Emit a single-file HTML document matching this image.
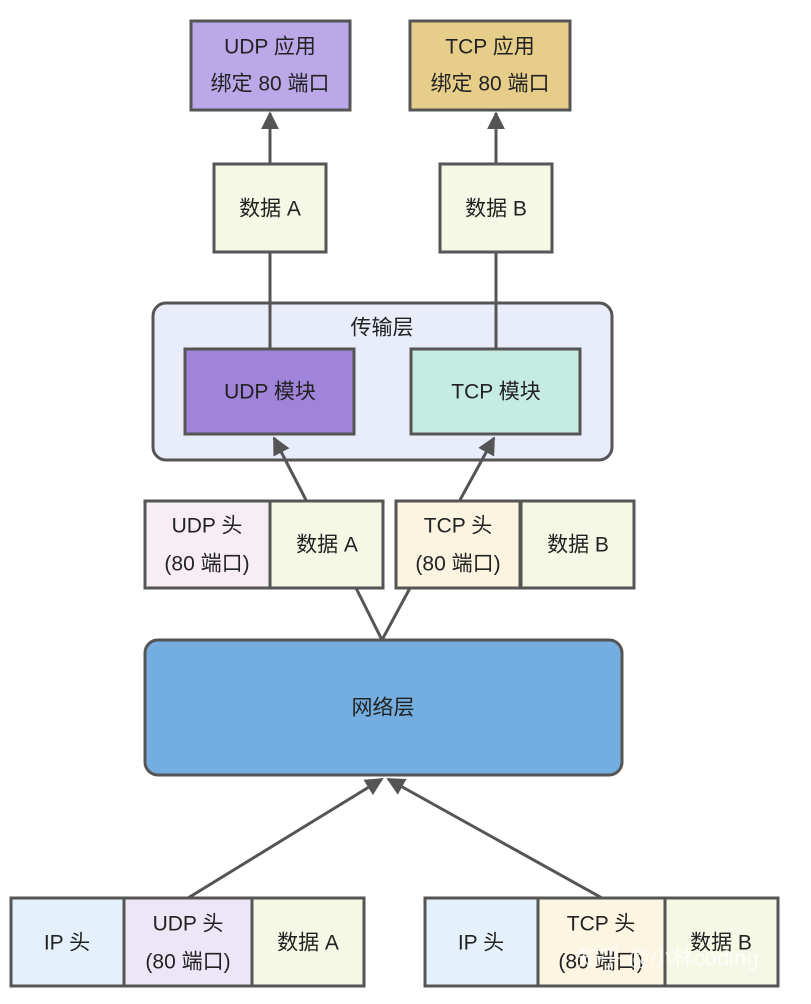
<!DOCTYPE html>
<html><head><meta charset="utf-8"><style>
html,body{margin:0;padding:0;background:#fff;}
svg{display:block;}
text{font-family:"Liberation Sans","Noto Sans CJK SC",sans-serif;font-size:21px;fill:#222;text-anchor:middle;dominant-baseline:central;}
</style></head><body>
<svg width="811" height="1004" viewBox="0 0 811 1004" xmlns="http://www.w3.org/2000/svg">
<defs>
<marker id="ah" viewBox="0 0 10 10" refX="9" refY="5" markerWidth="6" markerHeight="6" orient="auto" markerUnits="strokeWidth">
<path d="M0,0 L10,5 L0,10 z" fill="#555"/>
</marker>
</defs>
<g stroke="#555" stroke-width="3">
<rect x="191" y="21" width="159" height="89" fill="#bba8e8"/>
<rect x="410" y="21" width="160" height="89" fill="#e6cd8a"/>
<rect x="214" y="164" width="112" height="88" fill="#f6f8e6"/>
<rect x="440" y="164" width="112" height="88" fill="#f6f8e6"/>
<rect x="153" y="303" width="459" height="157" rx="13" fill="#e9edf9"/>
<line x1="270" y1="252" x2="270" y2="349"/>
<line x1="496" y1="252" x2="496" y2="349"/>
<rect x="185" y="349" width="169" height="85" fill="#9f84da"/>
<rect x="411" y="349" width="169" height="85" fill="#c6ebe2"/>
<rect x="145" y="501" width="125" height="87" fill="#f7eef5"/>
<rect x="270" y="501" width="113" height="87" fill="#f6f8e6"/>
<rect x="396" y="501" width="124" height="87" fill="#fbf4e0"/>
<rect x="521" y="501" width="113" height="87" fill="#f6f8e6"/>
<polyline points="356,588 382,640 410,588" fill="none"/>
<rect x="145" y="640" width="477" height="135" rx="13" fill="#74aee0"/>
<rect x="11" y="898" width="113" height="88" fill="#e4f1fb"/>
<rect x="124" y="898" width="128" height="88" fill="#ece6f6"/>
<rect x="252" y="898" width="112" height="88" fill="#f6f8e6"/>
<rect x="425" y="898" width="113" height="88" fill="#e4f1fb"/>
<rect x="538" y="898" width="127" height="88" fill="#fbf5e1"/>
<rect x="665" y="898" width="113" height="88" fill="#f6f8e6"/>
<line x1="270" y1="164" x2="270" y2="113" marker-end="url(#ah)"/>
<line x1="496" y1="164" x2="496" y2="113" marker-end="url(#ah)"/>
<line x1="306" y1="500" x2="274" y2="438" marker-end="url(#ah)"/>
<line x1="460" y1="500" x2="494" y2="438" marker-end="url(#ah)"/>
<line x1="188" y1="898" x2="382" y2="779" marker-end="url(#ah)"/>
<line x1="602" y1="898" x2="388" y2="779" marker-end="url(#ah)"/>
</g>
<text x="270" y="47">UDP 应用</text>
<text x="270" y="84">绑定 80 端口</text>
<text x="490" y="47">TCP 应用</text>
<text x="490" y="84">绑定 80 端口</text>
<text x="270" y="209">数据 A</text>
<text x="496" y="209">数据 B</text>
<text x="382" y="328">传输层</text>
<text x="270" y="392">UDP 模块</text>
<text x="496" y="392">TCP 模块</text>
<text x="207" y="526">UDP 头</text>
<text x="207" y="564">(80 端口)</text>
<text x="327" y="545">数据 A</text>
<text x="458" y="526">TCP 头</text>
<text x="458" y="564">(80 端口)</text>
<text x="578" y="545">数据 B</text>
<text x="383" y="708">网络层</text>
<text x="67" y="943">IP 头</text>
<text x="188" y="924">UDP 头</text>
<text x="188" y="962">(80 端口)</text>
<text x="308" y="943">数据 A</text>
<text x="481" y="943">IP 头</text>
<text x="601" y="924">TCP 头</text>
<text x="601" y="962">(80 端口)</text>
<text x="721" y="943">数据 B</text>
<text x="668" y="958" style="fill:rgba(255,255,255,0.75);font-size:22px">知乎 @小林coding</text>
</svg>
</body></html>
